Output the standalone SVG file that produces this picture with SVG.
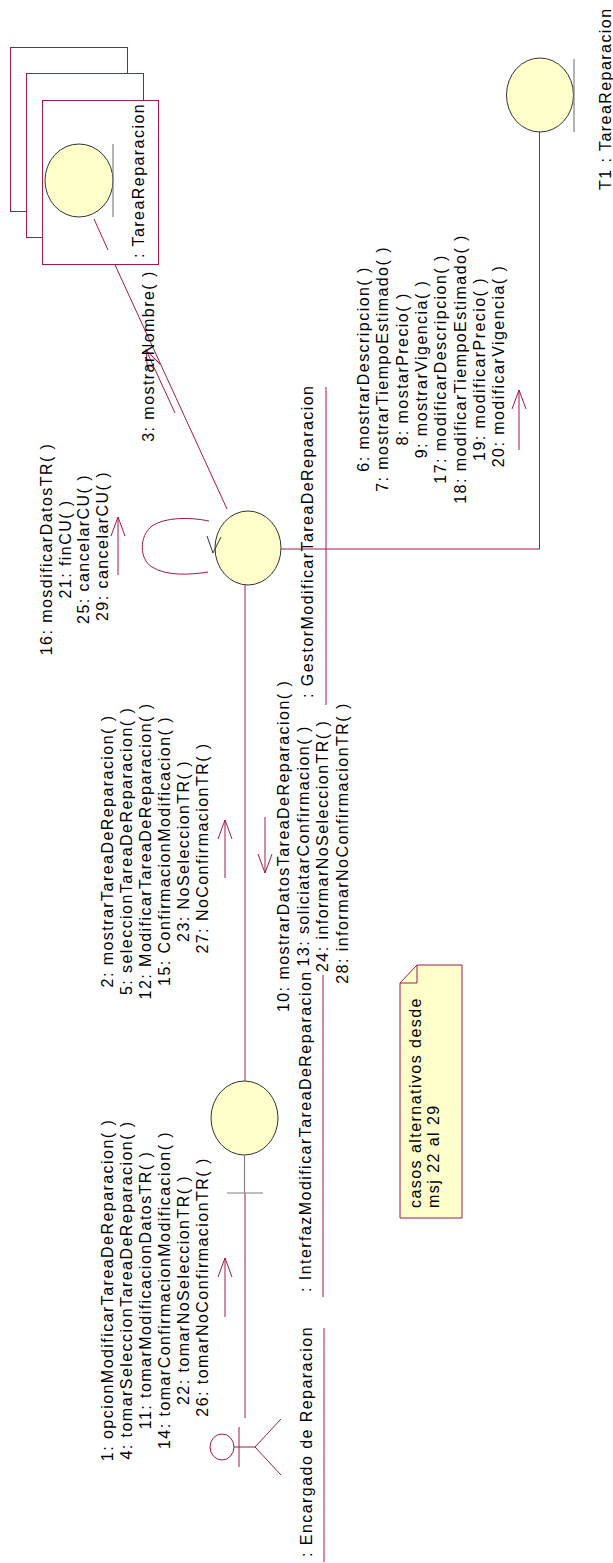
<svg xmlns="http://www.w3.org/2000/svg" width="613" height="1563" viewBox="0 0 613 1563">
<defs>
<style>
.t{font-family:"Liberation Sans",Arial,sans-serif;font-size:16px;letter-spacing:1.45px;fill:#000}
.lk{stroke:#A3194C;stroke-width:1;fill:none}
.ar{stroke:#A3194C;stroke-width:1;fill:none}
.ob{fill:#FFFFCC;stroke:#333;stroke-width:1}
.ul{stroke:#808080;stroke-width:1.2;fill:none}
.bx{fill:#fff;stroke:#A3194C;stroke-width:1}
.act{stroke:#A3194C;stroke-width:1;fill:none}
</style>
<marker id="oa" viewBox="0 0 20 16" refX="19" refY="8" markerWidth="20" markerHeight="16" markerUnits="userSpaceOnUse" orient="auto">
<path d="M0,1 L19,8 L0,15" fill="none" stroke="#A3194C" stroke-width="1"/>
</marker>
</defs>
<rect width="613" height="1563" fill="#fff"/>

<g id="links">
<line class="lk" x1="94" y1="219" x2="227" y2="509"/>
<polyline class="lk" points="281,549 539.5,549 539.5,132"/>
<path class="lk" d="M209,521 C190,517 165,517 152,526 C139,536 139,559 152,567 C166,576 190,575 208,572"/>
<line class="lk" x1="245" y1="585" x2="245" y2="1081"/>
<line class="lk" x1="245" y1="1193" x2="245" y2="1418"/>
</g>

<g id="multiobj-TareaReparacion">
<rect class="bx" x="10.5" y="47.5" width="117" height="164"/>
<rect class="bx" x="26.5" y="73.5" width="117" height="164"/>
<rect class="bx" x="42.5" y="100.5" width="116" height="164"/>
<ellipse class="ob" cx="79" cy="180.5" rx="34" ry="36.5"/>
<line class="ul" x1="113" y1="144" x2="113" y2="217"/>
<text class="t" transform="translate(144,258) rotate(-90)">: TareaReparacion</text>
</g>
<line class="lk" x1="94" y1="219" x2="108" y2="250"/>

<g id="T1">
<ellipse class="ob" cx="540" cy="95" rx="33.5" ry="37"/>
<line class="ul" x1="574" y1="59" x2="574" y2="132"/>
<text class="t" transform="translate(611,190) rotate(-90)">T1 : TareaReparacion</text>
</g>

<g id="gestor">
<ellipse class="ob" cx="248" cy="548" rx="33" ry="37"/>
<polyline fill="none" stroke="#333" stroke-width="1" points="207,536 213,553 221,537"/>
<text class="t" transform="translate(313,698) rotate(-90)">: GestorModificarTareaDeReparacion</text>
<line class="lk" x1="326" y1="387" x2="326" y2="705"/>
</g>

<g id="interfaz">
<ellipse class="ob" cx="244.5" cy="1118" rx="33.5" ry="37"/>
<line class="ul" x1="244.5" y1="1155" x2="244.5" y2="1193"/>
<line class="ul" x1="227" y1="1193" x2="263" y2="1193"/>
<text class="t" transform="translate(311,1292) rotate(-90)">: InterfazModificarTareaDeReparacion</text>
<line class="lk" x1="323" y1="975" x2="323" y2="1297"/>
</g>

<g id="actor">
<ellipse class="act" cx="222" cy="1447" rx="12" ry="13"/>
<line class="act" x1="239" y1="1427" x2="239" y2="1467"/>
<line class="act" x1="234" y1="1447" x2="255" y2="1447"/>
<line class="act" x1="255" y1="1447" x2="281" y2="1419"/>
<line class="act" x1="255" y1="1447" x2="281" y2="1475"/>
<text class="t" transform="translate(312,1557) rotate(-90)">: Encargado de Reparacion</text>
<line class="lk" x1="324" y1="1328" x2="324" y2="1562"/>
</g>

<g id="note">
<path d="M417,965 L462,965 L462,1218 L400,1218 L400,983 Z" fill="#FFFFCC" stroke="#A3194C" stroke-width="1"/>
<path d="M417,965 L417,983 L400,983" fill="none" stroke="#A3194C" stroke-width="1"/>
<text class="t" transform="translate(421,1208) rotate(-90)"><tspan x="0" y="0">casos alternativos desde</tspan><tspan x="0" y="18">msj 22 al 29</tspan></text>
</g>

<g id="messages">
<line class="ar" x1="225" y1="1317" x2="225" y2="1258" marker-end="url(#oa)"/>
<text class="t" text-anchor="middle" transform="translate(113,1287) rotate(-90)">
<tspan x="0" y="0">1: opcionModificarTareaDeReparacion( )</tspan>
<tspan x="0" y="19">4: tomarSeleccionTareaDeReparacion( )</tspan>
<tspan x="0" y="38">11: tomarModificacionDatosTR( )</tspan>
<tspan x="0" y="57">14: tomarConfirmacionModificacion( )</tspan>
<tspan x="0" y="76">22: tomarNoSeleccionTR( )</tspan>
<tspan x="0" y="95">26: tomarNoConfirmacionTR( )</tspan>
</text>

<line class="ar" x1="225" y1="878" x2="225" y2="820" marker-end="url(#oa)"/>
<text class="t" text-anchor="middle" transform="translate(113,848) rotate(-90)">
<tspan x="0" y="0">2: mostrarTareaDeReparacion( )</tspan>
<tspan x="0" y="19">5: seleccionTareaDeReparacion( )</tspan>
<tspan x="0" y="38">12: ModificarTareaDeReparacion( )</tspan>
<tspan x="0" y="57">15: ConfirmacionModificacion( )</tspan>
<tspan x="0" y="76">23: NoSeleccionTR( )</tspan>
<tspan x="0" y="95">27: NoConfirmacionTR( )</tspan>
</text>

<line class="ar" x1="265" y1="817" x2="265" y2="873" marker-end="url(#oa)"/>
<text class="t" text-anchor="middle" transform="translate(289,843) rotate(-90)">
<tspan x="0" y="0">10: mostrarDatosTareaDeReparacion( )</tspan>
<tspan x="0" y="19.5">13: soliciatarConfirmacion( )</tspan>
<tspan x="0" y="39">24: informarNoSeleccionTR( )</tspan>
<tspan x="0" y="58.5">28: informarNoConfirmacionTR( )</tspan>
</text>

<line class="ar" x1="118" y1="575" x2="118" y2="517" marker-end="url(#oa)"/>
<text class="t" text-anchor="middle" transform="translate(52,546) rotate(-90)">
<tspan x="0" y="0">16: mosdificarDatosTR( )</tspan>
<tspan x="0" y="18.7">21: finCU( )</tspan>
<tspan x="0" y="37.4">25: cancelarCU( )</tspan>
<tspan x="0" y="56">29: cancelarCU( )</tspan>
</text>

<line class="ar" x1="175" y1="413" x2="146" y2="350" marker-end="url(#oa)"/>
<text class="t" text-anchor="middle" transform="translate(154,356) rotate(-90)">3: mostrarNombre( )</text>

<line class="ar" x1="519" y1="450" x2="519" y2="390" marker-end="url(#oa)"/>
<text class="t" text-anchor="middle" transform="translate(369,366) rotate(-90)">
<tspan x="0" y="0">6: mostrarDescripcion( )</tspan>
<tspan x="0" y="19.3">7: mostrarTiempoEstimado( )</tspan>
<tspan x="0" y="38.6">8: mostarPrecio( )</tspan>
<tspan x="0" y="57.9">9: mostrarVigencia( )</tspan>
<tspan x="0" y="77.2">17: modificarDescripcion( )</tspan>
<tspan x="0" y="96.5">18: modificarTiempoEstimado( )</tspan>
<tspan x="0" y="115.8">19: modificarPrecio( )</tspan>
<tspan x="0" y="135.1">20: modificarVigencia( )</tspan>
</text>
</g>
</svg>
